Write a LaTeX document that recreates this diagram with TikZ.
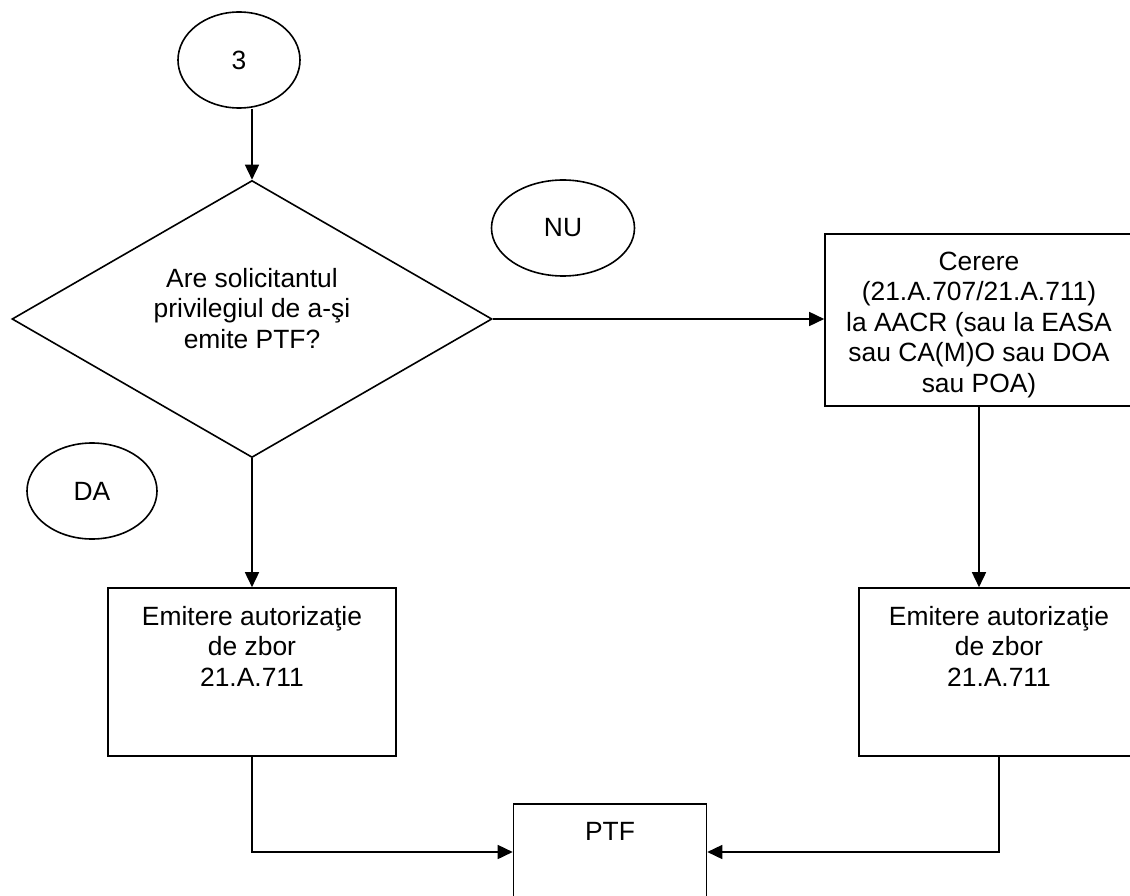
\documentclass[tikz,border=0pt]{standalone}
\usepackage{fontspec}
\setmainfont{Liberation Sans}
\usetikzlibrary{shapes.geometric,arrows.meta}

\newcommand{\boxtext}[3]{\parbox[t][#2][t]{#1}{\centering #3}}

\begin{document}
\begin{tikzpicture}[x=1pt,y=-1pt,line width=1.6pt,
	oval/.style={draw,ellipse,inner sep=0pt},
	stepbox/.style={draw,rectangle,inner xsep=5pt,inner ysep=18pt},
	flow/.style={-{Triangle[length=15pt,width=14pt]}}]
	\tikzstyle{every node}=[font=\fontsize{26.4}{30.5}\selectfont]
	
	\useasboundingbox (0,0) rectangle (1130,896);
	\clip (0,0) rectangle (1130,896);
	
	% shapes
	\node[oval,minimum width=122pt,minimum height=96pt] (start) at (239,60) {3};
	\node[draw,diamond,aspect=1.73,inner sep=0pt,minimum width=480pt,minimum height=277pt,align=center] (ask) at (252,319) {Are solicitantul\\privilegiul de a-şi\\emite PTF?\\[-8.5pt]\mbox{}};
	\node[oval,minimum width=143pt,minimum height=96pt] (no) at (563,228) {NU};
	\node[oval,minimum width=130pt,minimum height=96pt] (yes) at (92,491) {DA};
	
	\node[stepbox] (cerere) at (979,320) {\boxtext{298pt}{136pt}{Cerere\\(21.A.707/21.A.711)\\la AACR (sau la EASA\\sau CA(M)O sau DOA\\sau POA)}};
	\node[stepbox] (permleft) at (252,672) {\boxtext{278pt}{132pt}{Emitere autorizaţie\\de zbor\\21.A.711}};
	\node[stepbox] (permright) at (999,672) {\boxtext{270pt}{132pt}{Emitere autorizaţie\\de zbor\\21.A.711}};
	\node[stepbox] (ptf) at (610,852) {\boxtext{183pt}{60pt}{PTF}};
	
	% connectors
	\draw[flow] (start.south -| ask.north) -- (ask.north);
	\draw[flow] (ask.east) -- (ask.east -| cerere.west);
	\draw[flow] (ask.south) -- (permleft.north);
	\draw[flow] (cerere.south) -- (cerere.south |- permright.north);
	\draw[flow] (permleft.south) |- (ptf.west);
	\draw[flow] (permright.south) |- (ptf.east);
	
\end{tikzpicture}
\end{document}
